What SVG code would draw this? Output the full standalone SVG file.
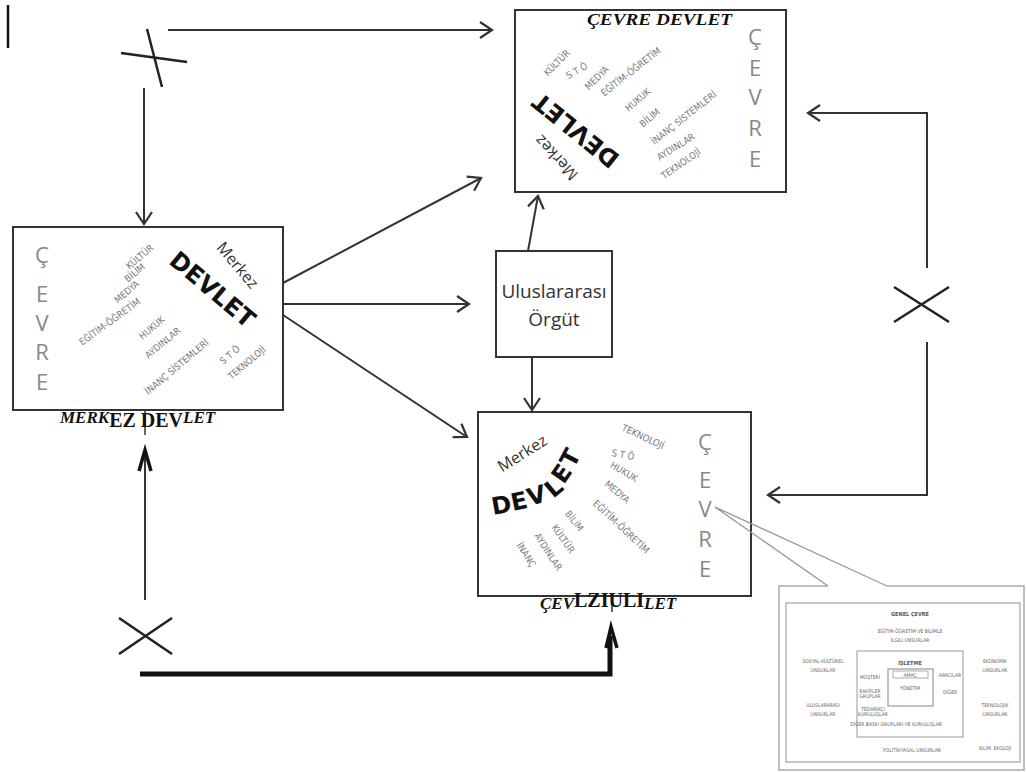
<svg xmlns="http://www.w3.org/2000/svg" width="1026" height="772" viewBox="0 0 1026 772">
<style>
.box{fill:#fff;stroke:#333;stroke-width:2}
.cv{font-family:"Open Sans","DejaVu Sans",sans-serif;font-size:22px;fill:#888;text-anchor:middle}
.w{font-family:"DejaVu Sans Condensed","DejaVu Sans",sans-serif;font-size:9.5px;fill:#7a7a7a;text-anchor:middle}
.dv{font-family:"DejaVu Sans",sans-serif;font-weight:bold;font-size:24px;fill:#111;text-anchor:middle}
.mk{font-family:"Open Sans","DejaVu Sans",sans-serif;font-size:16px;fill:#333;text-anchor:middle}
.lb{font-family:"Liberation Serif",serif;font-style:italic;font-weight:bold;font-size:17px;fill:#111}
.ov{font-style:normal;font-weight:bold;font-size:20px}
.ul{font-family:"Open Sans","DejaVu Sans",sans-serif;font-size:19px;fill:#333;text-anchor:middle}
.c{fill:none;stroke:#333;stroke-width:2}
.x{fill:none;stroke:#222;stroke-width:2.5}
.t{font-family:"DejaVu Sans Condensed","DejaVu Sans",sans-serif;font-size:5px;fill:#666;text-anchor:middle}
.tb{font-family:"DejaVu Sans Condensed","DejaVu Sans",sans-serif;font-size:5.5px;font-weight:bold;fill:#555;text-anchor:middle}
</style>
<defs>
<marker id="a" markerUnits="userSpaceOnUse" viewBox="-14 -10 16 20" refX="0" refY="0" markerWidth="16" markerHeight="20" orient="auto">
<path d="M-12,-8 L0,0 L-12,8" fill="none" stroke="#333" stroke-width="2.2"/>
</marker>
</defs>
<rect width="1026" height="772" fill="#fff"/>
<line x1="8" y1="5" x2="8" y2="48" stroke="#111" stroke-width="2.5"/>

<g id="connectors">
<line class="c" x1="168" y1="30" x2="492" y2="30" marker-end="url(#a)"/>
<line class="c" x1="144" y1="88" x2="144" y2="224" marker-end="url(#a)"/>
<line class="c" x1="283" y1="283" x2="481" y2="178" marker-end="url(#a)"/>
<line class="c" x1="283" y1="304" x2="469" y2="304" marker-end="url(#a)"/>
<line class="c" x1="283" y1="315" x2="467" y2="437" marker-end="url(#a)"/>
<line class="c" x1="528" y1="251" x2="538" y2="196" marker-end="url(#a)"/>
<line class="c" x1="532" y1="358" x2="532" y2="410" marker-end="url(#a)"/>
<path class="c" d="M927,268 V113 H808" marker-end="url(#a)"/>
<path class="c" d="M927,342 V495 H768" marker-end="url(#a)"/>
<line class="c" x1="145" y1="600" x2="145" y2="455"/>
<path d="M139,471 L145,450 L151,471" fill="none" stroke="#111" stroke-width="3.5"/>
<line x1="145" y1="395" x2="145" y2="435" stroke="#333" stroke-width="1.5"/>
<path d="M140,674 H610 V636" fill="none" stroke="#111" stroke-width="5"/>
<path d="M606,648 L611,627 L617,648" fill="none" stroke="#111" stroke-width="3.5"/>
<line x1="612" y1="596" x2="612" y2="612" stroke="#333" stroke-width="1.5"/>
<path class="x" d="M121,53 L187,62 M147,29 L162,87"/>
<path class="x" d="M894,287 L949,322 M894,322 L949,287"/>
<path class="x" d="M119,618 L172,654 M119,654 L172,618"/>
</g>

<g id="merkez-devlet">
<rect class="box" x="13" y="227" width="270" height="183"/>
<text class="cv" x="42" y="263">Ç</text>
<text class="cv" x="42" y="302">E</text>
<text class="cv" x="42" y="331">V</text>
<text class="cv" x="42" y="360">R</text>
<text class="cv" x="42" y="390">E</text>
<text class="dv" font-size="25" transform="translate(213,289) rotate(40)" dy="9">DEVLET</text>
<text class="mk" transform="translate(238,265) rotate(50)" dy="6">Merkez</text>
<g class="w">
<text transform="translate(140,257) rotate(-40)" dy="3">KÜLTÜR</text>
<text transform="translate(135,273) rotate(-40)" dy="3">BİLİM</text>
<text transform="translate(127,292) rotate(-40)" dy="3">MEDYA</text>
<text transform="translate(110,322) rotate(-36)" dy="3">EĞİTİM-ÖĞRETİM</text>
<text transform="translate(152,328) rotate(-40)" dy="3">HUKUK</text>
<text transform="translate(163,343) rotate(-40)" dy="3">AYDINLAR</text>
<text transform="translate(177,367) rotate(-40)" dy="3">İNANÇ SİSTEMLERİ</text>
<text transform="translate(230,355) rotate(-40)" dy="3">S T Ö</text>
<text transform="translate(247,363) rotate(-40)" dy="3">TEKNOLOJİ</text>
</g>
<text class="lb" x="60" y="423">MERK<tspan class="ov" dy="4">EZ DEV</tspan><tspan dy="-4">LET</tspan></text>
</g>

<g id="cevre-devlet-top">
<rect class="box" x="515" y="10" width="271" height="182"/>
<text class="lb" x="587" y="25" textLength="145" lengthAdjust="spacingAndGlyphs">ÇEVRE DEVLET</text>
<text class="cv" x="755" y="45">Ç</text>
<text class="cv" x="755" y="76">E</text>
<text class="cv" x="755" y="105">V</text>
<text class="cv" x="755" y="136">R</text>
<text class="cv" x="755" y="167">E</text>
<text class="dv" font-size="23" transform="translate(576,130) rotate(-141)" dy="8">DEVLET</text>
<text class="mk" transform="translate(556,158) rotate(-133)" dy="6">Merkez</text>
<g class="w">
<text transform="translate(557,63) rotate(-45)" dy="3">KÜLTÜR</text>
<text transform="translate(577,71) rotate(-30)" dy="3">S T Ö</text>
<text transform="translate(597,78) rotate(-45)" dy="3">MEDYA</text>
<text transform="translate(631,72) rotate(-38)" dy="3">EĞİTİM-ÖĞRETİM</text>
<text transform="translate(638,100) rotate(-40)" dy="3">HUKUK</text>
<text transform="translate(650,118) rotate(-40)" dy="3">BİLİM</text>
<text transform="translate(684,118) rotate(-38)" dy="3">İNANÇ SİSTEMLERİ</text>
<text transform="translate(676,147) rotate(-32)" dy="3">AYDINLAR</text>
<text transform="translate(681,164) rotate(-35)" dy="3">TEKNOLOJİ</text>
</g>
</g>

<g id="uluslararasi-orgut">
<rect class="box" x="496" y="251" width="116" height="106"/>
<text class="ul" x="554" y="298">Uluslararası</text>
<text class="ul" x="554" y="326">Örgüt</text>
</g>

<g id="cevre-devlet-bottom">
<rect class="box" x="478" y="412" width="273" height="184"/>
<text class="cv" x="705" y="450">Ç</text>
<text class="cv" x="705" y="488">E</text>
<text class="cv" x="705" y="517">V</text>
<text class="cv" x="705" y="547">R</text>
<text class="cv" x="705" y="577">E</text>
<text class="dv" font-size="24" text-anchor="start" x="503 521 539 561 572 582" y="515 511 506 499 485 469" rotate="-10 -12 -16 -40 -55 -62">DEVLET</text>
<text class="mk" transform="translate(522,453) rotate(-32)" dy="6">Merkez</text>
<g class="w">
<text transform="translate(643,437) rotate(25)" dy="3">TEKNOLOJİ</text>
<text transform="translate(623,455) rotate(10)" dy="3">S T Ö</text>
<text transform="translate(624,472) rotate(30)" dy="3">HUKUK</text>
<text transform="translate(617,492) rotate(40)" dy="3">MEDYA</text>
<text transform="translate(621,527) rotate(43)" dy="3">EĞİTİM-ÖĞRETİM</text>
<text transform="translate(574,521) rotate(52)" dy="3">BİLİM</text>
<text transform="translate(563,539) rotate(55)" dy="3">KÜLTÜR</text>
<text transform="translate(548,552) rotate(57)" dy="3">AYDINLAR</text>
<text transform="translate(526,555) rotate(57)" dy="3">İNANÇ</text>
</g>
<text class="lb" x="540" y="609">ÇEV<tspan class="ov" dy="-2">LZIULI</tspan><tspan dy="2">LET</tspan></text>
</g>

<g id="genel-cevre-inset">
<path d="M828,586 H779 V770 H1024 V586 H887" fill="#fff" stroke="#aaa" stroke-width="1.5"/>
<path d="M715,507 L828,586 M715,507 L887,586" fill="none" stroke="#999" stroke-width="1.3"/>
<rect x="786" y="603" width="234" height="159" fill="none" stroke="#aaa" stroke-width="1.3"/>
<text class="tb" x="910" y="616">GENEL ÇEVRE</text>
<text class="t" x="910" y="633">EĞİTİM-ÖĞRETİM VE BİLİMLE</text>
<text class="t" x="910" y="642">İLGİLİ UNSURLAR</text>
<text class="t" x="823" y="663">SOSYAL-KÜLTÜREL</text>
<text class="t" x="823" y="672">UNSURLAR</text>
<text class="t" x="995" y="663">EKONOMİK</text>
<text class="t" x="995" y="672">UNSURLAR</text>
<text class="t" x="823" y="707">ULUSLARARASI</text>
<text class="t" x="823" y="716">UNSURLAR</text>
<text class="t" x="995" y="707">TEKNOLOJİK</text>
<text class="t" x="995" y="716">UNSURLAR</text>
<rect x="857" y="651" width="106" height="86" fill="none" stroke="#aaa" stroke-width="1.2"/>
<text class="tb" x="910" y="665" font-size="4.5">İŞLETME</text>
<rect x="888" y="669" width="45" height="37" fill="none" stroke="#999" stroke-width="1.2"/>
<rect x="893" y="671" width="35" height="7" fill="none" stroke="#999" stroke-width="0.8"/>
<text class="t" x="910" y="677" font-size="3.5">AMAÇ</text>
<text class="t" x="910" y="690" font-size="4">YÖNETİM</text>
<text class="t" x="870" y="679" font-size="3.5">MÜŞTERİ</text>
<text class="t" x="870" y="693" font-size="3.5">RAKİPLER</text>
<text class="t" x="870" y="698" font-size="3.5">GRUPLAR</text>
<text class="t" x="873" y="711" font-size="3.5">TEDARİKÇİ</text>
<text class="t" x="873" y="716" font-size="3.5">KURULUŞLAR</text>
<text class="t" x="896" y="726" font-size="3.5">DİĞER BASKI GRUPLARI VE KURULUŞLAR</text>
<text class="t" x="950" y="677" font-size="3.5">ARACILAR</text>
<text class="t" x="950" y="694" font-size="3.5">DİĞER</text>
<text class="t" x="912" y="752">POLİTİK-YASAL UNSURLAR</text>
<text class="t" x="995" y="750">İKLİM, EKOLOJİ</text>
</g>
</svg>
